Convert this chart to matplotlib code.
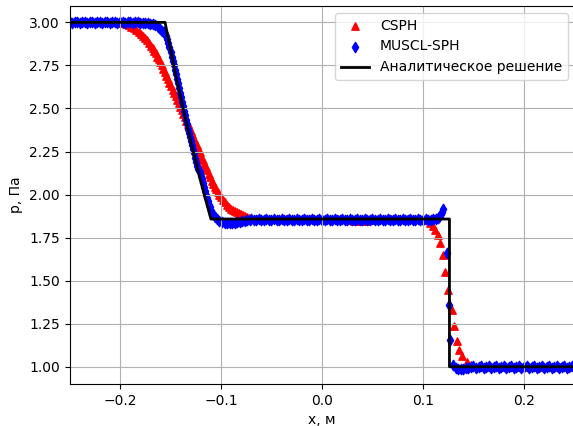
import numpy as np
import matplotlib
matplotlib.use('Agg')
import matplotlib.pyplot as plt

# analytic solution (pressure)
x_exact = [-0.25, -0.1554, -0.144, -0.1326, -0.1213, -0.110, 0.1262, 0.1262, 0.25]
p_exact = [3.0, 3.0, 2.67, 2.372, 2.104, 1.858, 1.858, 1.0, 1.0]

# CSPH particles, by region
x_cs_left = [-0.250, -0.245, -0.240, -0.235, -0.230, -0.225, -0.220, -0.215, -0.210, -0.205]
p_cs_left = [3.0, 3.0, 3.0, 3.0, 3.0, 3.0, 3.0, 3.0, 3.0, 3.0]

x_cs_rare = [-0.200, -0.197, -0.194, -0.1915, -0.189, -0.1865, -0.184, -0.1815, -0.179, -0.177,
             -0.175, -0.173, -0.171, -0.169, -0.1675, -0.166, -0.1645, -0.163, -0.1615, -0.160,
             -0.1585, -0.157, -0.1555, -0.154, -0.1525, -0.151, -0.1495, -0.148, -0.1465, -0.145,
             -0.1435, -0.142, -0.1405, -0.139, -0.1375, -0.136, -0.1345, -0.133, -0.1315, -0.130,
             -0.1285, -0.127, -0.1255, -0.124, -0.1225, -0.121, -0.1195, -0.118, -0.1165, -0.115,
             -0.1135, -0.112, -0.1105, -0.109, -0.1075, -0.106, -0.1045, -0.103, -0.1015, -0.100,
             -0.098, -0.096, -0.094, -0.092, -0.090, -0.088, -0.086, -0.084, -0.082, -0.080,
             -0.078, -0.076, -0.074, -0.072, -0.070, -0.067]
p_cs_rare = [2.998, 2.995, 2.99, 2.983, 2.975, 2.966, 2.955, 2.945, 2.934, 2.92,
             2.91, 2.895, 2.88, 2.865, 2.85, 2.835, 2.82, 2.80, 2.785, 2.77,
             2.75, 2.73, 2.71, 2.69, 2.67, 2.65, 2.63, 2.61, 2.59, 2.57,
             2.55, 2.53, 2.51, 2.49, 2.47, 2.45, 2.43, 2.41, 2.39, 2.37,
             2.35, 2.325, 2.305, 2.285, 2.265, 2.245, 2.22, 2.20, 2.18, 2.16,
             2.14, 2.12, 2.10, 2.08, 2.06, 2.045, 2.03, 2.015, 2.0, 1.985,
             1.97, 1.955, 1.94, 1.928, 1.918, 1.91, 1.903, 1.897, 1.891, 1.885,
             1.88, 1.875, 1.87, 1.866, 1.863, 1.86]

x_cs_mid = [-0.064, -0.060, -0.056, -0.052, -0.048, -0.044, -0.040, -0.036, -0.032, -0.028,
            -0.024, -0.020, -0.016, -0.012, -0.008, -0.004, 0.000, 0.004, 0.008, 0.012,
            0.016, 0.020, 0.024, 0.028, 0.032, 0.036, 0.040, 0.044, 0.048, 0.052,
            0.056, 0.060, 0.064, 0.068, 0.072, 0.076, 0.080, 0.084, 0.088, 0.092,
            0.096]
p_cs_mid = [1.857, 1.856, 1.856, 1.856, 1.856, 1.856, 1.856, 1.856, 1.856, 1.856,
            1.856, 1.856, 1.856, 1.856, 1.856, 1.856, 1.856, 1.856, 1.856, 1.856,
            1.856, 1.856, 1.856, 1.854, 1.848, 1.845, 1.845, 1.848, 1.854, 1.856,
            1.856, 1.856, 1.856, 1.856, 1.856, 1.856, 1.856, 1.856, 1.856, 1.856,
            1.856]

x_cs_shock = [0.100, 0.103, 0.1069, 0.1095, 0.1119, 0.1145, 0.1168, 0.1201, 0.1218, 0.1251,
              0.1284, 0.1307, 0.1333, 0.1356, 0.1383, 0.1433]
p_cs_shock = [1.855, 1.85, 1.833, 1.815, 1.794, 1.765, 1.717, 1.65, 1.553, 1.446,
              1.33, 1.234, 1.147, 1.10, 1.06, 1.03]

x_cs_right = [0.148, 0.156, 0.164, 0.172, 0.180, 0.188, 0.196, 0.204, 0.212, 0.220,
              0.228, 0.236, 0.244, 0.252]
p_cs_right = [1.01, 1.0, 1.0, 1.0, 1.0, 1.0, 1.0, 1.0, 1.0, 1.0,
              1.0, 1.0, 1.0, 1.0]

# MUSCL-SPH particles, by region
x_mu_left = [-0.2500, -0.2475, -0.2450, -0.2425, -0.2400, -0.2375, -0.2350, -0.2325, -0.2300, -0.2275,
             -0.2250, -0.2225, -0.2200, -0.2175, -0.2150, -0.2125, -0.2100, -0.2075, -0.2050, -0.2025,
             -0.2000, -0.1975, -0.1950, -0.1925, -0.1900, -0.1875, -0.1850, -0.1825, -0.1800, -0.1775,
             -0.1750, -0.1725, -0.1700]
p_mu_left = [3.005, 2.995, 3.000, 3.005, 2.995, 3.000, 3.005, 2.995, 3.000, 3.005,
             2.995, 3.000, 3.005, 2.995, 3.000, 3.005, 2.995, 3.000, 3.005, 2.995,
             3.000, 3.005, 2.995, 3.000, 3.004, 2.995, 3.000, 3.002, 2.995, 2.998,
             2.996, 2.994, 2.992]

x_mu_rare = [-0.1675, -0.165, -0.1625, -0.160, -0.158, -0.1565, -0.155, -0.154, -0.153, -0.152,
             -0.151, -0.150, -0.149, -0.148, -0.147, -0.146, -0.145, -0.144, -0.143, -0.142,
             -0.141, -0.140, -0.139, -0.138, -0.137, -0.136, -0.135, -0.134, -0.133, -0.132,
             -0.131, -0.130, -0.129, -0.128, -0.127, -0.126, -0.125, -0.124, -0.123, -0.122,
             -0.121, -0.120, -0.119, -0.118, -0.117, -0.116, -0.115, -0.114, -0.113, -0.112,
             -0.111, -0.1095, -0.108, -0.106, -0.104, -0.1015, -0.099, -0.0965, -0.094, -0.0915,
             -0.089, -0.0865, -0.084, -0.0815, -0.079, -0.0765, -0.074, -0.0715]
p_mu_rare = [2.99, 2.982, 2.972, 2.962, 2.952, 2.942, 2.93, 2.918, 2.905, 2.88,
             2.855, 2.83, 2.80, 2.775, 2.75, 2.725, 2.70, 2.67, 2.645, 2.618,
             2.592, 2.566, 2.54, 2.514, 2.488, 2.462, 2.435, 2.41, 2.383, 2.358,
             2.334, 2.31, 2.287, 2.263, 2.239, 2.215, 2.192, 2.168, 2.15, 2.14,
             2.13, 2.11, 2.09, 2.065, 2.045, 2.02, 2.0, 1.98, 1.96, 1.94,
             1.925, 1.905, 1.89, 1.872, 1.858, 1.848, 1.84, 1.836, 1.834, 1.834,
             1.835, 1.837, 1.84, 1.843, 1.846, 1.849, 1.852, 1.855]

x_mu_mid = [-0.0700, -0.0675, -0.0650, -0.0625, -0.0600, -0.0575, -0.0550, -0.0525, -0.0500, -0.0475,
            -0.0450, -0.0425, -0.0400, -0.0375, -0.0350, -0.0325, -0.0300, -0.0275, -0.0250, -0.0225,
            -0.0200, -0.0175, -0.0150, -0.0125, -0.0100, -0.0075, -0.0050, -0.0025, 0.0000, 0.0025,
            0.0050, 0.0075, 0.0100, 0.0125, 0.0150, 0.0175, 0.0200, 0.0225, 0.0250, 0.0275,
            0.0300, 0.0325, 0.0350, 0.0375, 0.0400, 0.0425, 0.0450, 0.0475, 0.0500, 0.0525,
            0.0550, 0.0575, 0.0600, 0.0625, 0.0650, 0.0675, 0.0700, 0.0725, 0.0750, 0.0775,
            0.0800, 0.0825, 0.0850, 0.0875, 0.0900, 0.0925, 0.0950, 0.0975, 0.1000, 0.1025,
            0.1050, 0.1075, 0.1100, 0.1125]
p_mu_mid = [1.860, 1.850, 1.855, 1.860, 1.850, 1.855, 1.860, 1.850, 1.855, 1.860,
            1.850, 1.855, 1.860, 1.850, 1.855, 1.860, 1.850, 1.855, 1.860, 1.850,
            1.855, 1.860, 1.850, 1.855, 1.860, 1.850, 1.855, 1.860, 1.850, 1.855,
            1.860, 1.850, 1.855, 1.860, 1.850, 1.855, 1.860, 1.850, 1.855, 1.860,
            1.850, 1.855, 1.860, 1.850, 1.855, 1.860, 1.850, 1.855, 1.860, 1.850,
            1.855, 1.860, 1.850, 1.855, 1.860, 1.850, 1.855, 1.860, 1.850, 1.855,
            1.860, 1.850, 1.855, 1.860, 1.850, 1.855, 1.860, 1.850, 1.855, 1.860,
            1.850, 1.855, 1.860, 1.858]

x_mu_shock = [0.1145, 0.1160, 0.1175, 0.1188, 0.1197, 0.1235, 0.1255, 0.1272, 0.1300, 0.1325,
              0.1350, 0.1375, 0.1400, 0.1425, 0.1450]
p_mu_shock = [1.862, 1.87, 1.885, 1.90, 1.915, 1.66, 1.36, 1.155, 1.01, 0.995,
              0.988, 0.986, 0.988, 0.99, 0.993]

x_mu_right = [0.1475, 0.1500, 0.1525, 0.1550, 0.1575, 0.1600, 0.1625, 0.1650, 0.1675, 0.1700,
              0.1725, 0.1750, 0.1775, 0.1800, 0.1825, 0.1850, 0.1875, 0.1900, 0.1925, 0.1950,
              0.1975, 0.2000, 0.2025, 0.2050, 0.2075, 0.2100, 0.2125, 0.2150, 0.2175, 0.2200,
              0.2225, 0.2250, 0.2275, 0.2300, 0.2325, 0.2350, 0.2375, 0.2400, 0.2425, 0.2450,
              0.2475, 0.2500, 0.2525]
p_mu_right = [1.000, 1.005, 0.995, 1.000, 1.005, 0.995, 1.000, 1.005, 0.995, 1.000,
              1.005, 0.995, 1.000, 1.005, 0.995, 1.000, 1.005, 0.995, 1.000, 1.005,
              0.995, 1.000, 1.005, 0.995, 1.000, 1.005, 0.995, 1.000, 1.005, 0.995,
              1.000, 1.005, 0.995, 1.000, 1.005, 0.995, 1.000, 1.005, 0.995, 1.000,
              1.005, 0.995, 1.000]

x_cs = x_cs_left + x_cs_rare + x_cs_mid + x_cs_shock + x_cs_right
p_cs = p_cs_left + p_cs_rare + p_cs_mid + p_cs_shock + p_cs_right
x_mu = x_mu_left + x_mu_rare + x_mu_mid + x_mu_shock + x_mu_right
p_mu = p_mu_left + p_mu_rare + p_mu_mid + p_mu_shock + p_mu_right

fig = plt.figure(figsize=(5.73, 4.26), dpi=100)
ax = fig.add_axes([0.1213, 0.0986, 0.8813, 0.8873])
ax.scatter(x_cs, p_cs, marker='^', color='red', s=28, label='CSPH')
ax.scatter(x_mu, p_mu, marker='d', color='blue', s=28, label='MUSCL-SPH')
ax.plot(x_exact, p_exact, color='black', linewidth=2, label='Аналитическое решение')
ax.set_xlim(-0.25, 0.25)
ax.set_ylim(0.9, 3.095)
ax.set_xlabel('x, м')
ax.set_ylabel('p, Па')
ax.grid(True)
ax.legend(loc='upper right')
fig.savefig('out.png', dpi=100)
